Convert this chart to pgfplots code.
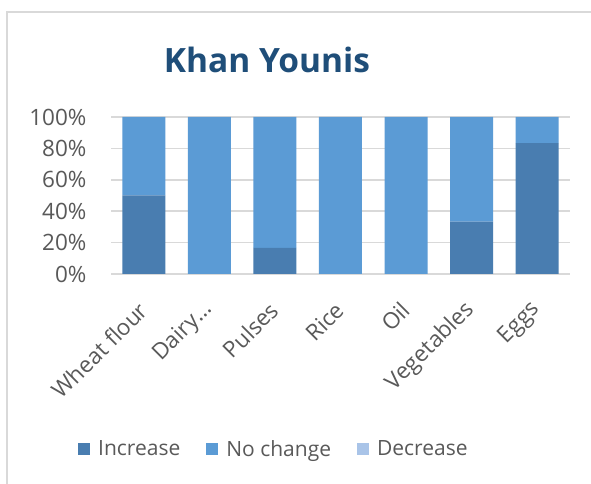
\documentclass[border=0pt]{standalone}
\usepackage{fontspec}
\setmainfont{Open Sans}
\usepackage{pgfplots}
\pgfplotsset{compat=1.18}
\definecolor{incC}{HTML}{497DB0}
\definecolor{noC}{HTML}{5B9BD5}
\definecolor{decC}{HTML}{A9C4E8}
\definecolor{txtC}{HTML}{595959}
\definecolor{gridC}{HTML}{D9D9D9}
\definecolor{titleC}{HTML}{1F4E79}
\begin{document}
\begin{tikzpicture}
\useasboundingbox (0pt,0pt) rectangle (591pt,484pt);
\fill[white] (0pt,0pt) rectangle (591pt,484pt);
\draw[gridC, line width=2pt] (7pt,0pt) -- (7pt,472pt) -- (591pt,472pt);
\node[font=\bfseries\fontsize{33.5}{40}\selectfont, text=titleC] at (267pt,424pt) {Khan Younis};
\begin{axis}[
  at={(111pt,210pt)}, anchor=south west,
  scale only axis, width=459pt, height=157pt,
  ybar stacked, bar width=43pt,
  xmin=-0.5, xmax=6.5, ymin=0, ymax=100,
  xtick=data,
  xticklabels={Wheat flour,Dairy…,Pulses,Rice,Oil,Vegetables,Eggs},
  ytick={0,20,40,60,80,100},
  yticklabels={0\%,20\%,40\%,60\%,80\%,100\%},
  major tick length=0pt,
  axis line style={draw=none},
  ymajorgrids, grid style={gridC, line width=1.5pt},
  tick label style={font=\fontsize{22.5}{26}\selectfont, text=txtC},
  yticklabel style={xshift=-21pt},
  xticklabel style={yshift=-30pt, xshift=2pt, rotate=45, anchor=east},
  legend style={at={(-0.0719,-1.1146)}, anchor=west, draw=none, fill=none, inner sep=0pt,
     legend columns=3, font=\fontsize{21}{24}\selectfont, text=txtC,
     /tikz/every odd column/.append style={column sep=6pt},
     /tikz/every even column/.append style={column sep=24pt}},
  legend image code/.code={\fill[#1] (0pt,-6pt) rectangle (12pt,6pt);},
]
\addplot[fill=incC, draw=none] coordinates {(0,50) (1,0) (2,16.7) (3,0) (4,0) (5,33.3) (6,83.3)};
\addplot[fill=noC, draw=none] coordinates {(0,50) (1,100) (2,83.3) (3,100) (4,100) (5,66.7) (6,16.7)};
\addplot[fill=decC, draw=none] coordinates {(0,0) (1,0) (2,0) (3,0) (4,0) (5,0) (6,0)};
\legend{Increase,No change,Decrease}
\end{axis}
\end{tikzpicture}
\end{document}
